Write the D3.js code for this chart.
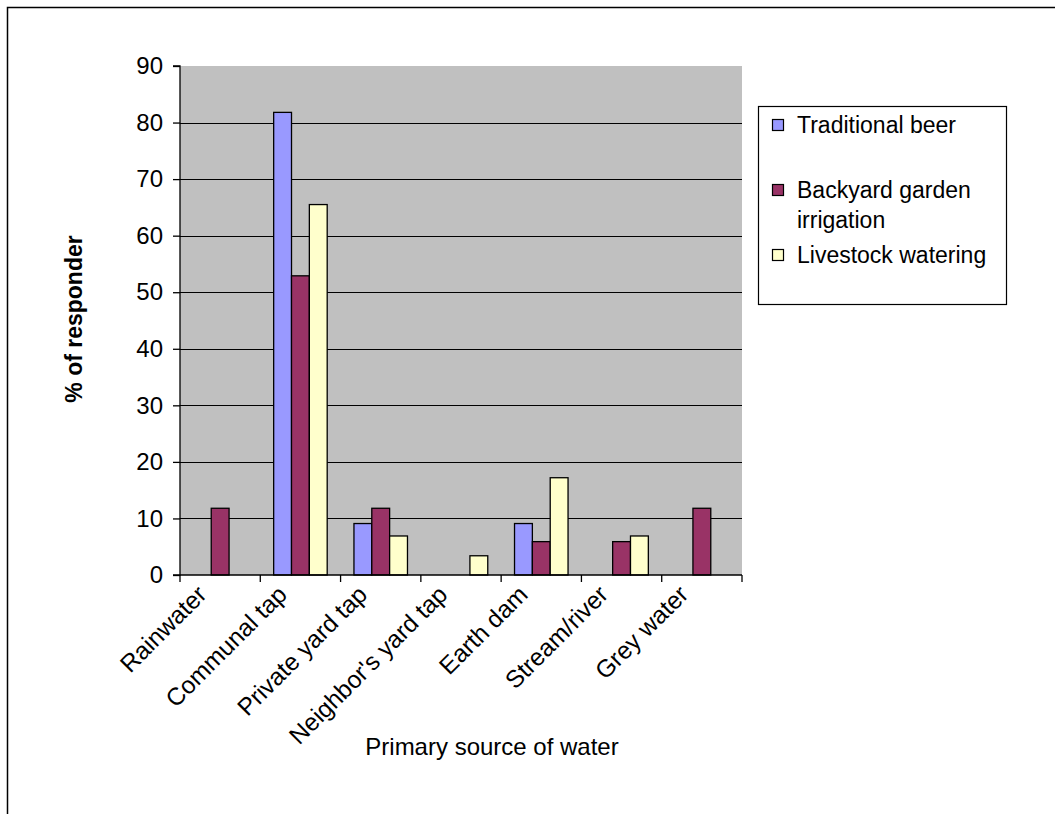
<!DOCTYPE html>
<html>
<head>
<meta charset="utf-8">
<script src="https://cdn.jsdelivr.net/npm/d3@7"></script>
<style>
  html, body { margin: 0; padding: 0; background: #fff; }
  svg { display: block; font-family: "Liberation Sans", Arial, sans-serif; }
</style>
</head>
<body>
<svg id="chart" width="1055" height="814"></svg>
<script>
// Primary source of water, by use (% of responders)
const categories = ["Rainwater", "Communal tap", "Private yard tap", "Neighbor's yard tap", "Earth dam", "Stream/river", "Grey water"];
const seriesNames = ["Traditional beer", "Backyard garden irrigation", "Livestock watering"];
const traditionalBeer = [0, 81.8, 9.1, 0, 9.1, 0, 0];
const backyardGarden = [11.8, 52.9, 11.8, 0, 5.9, 5.9, 11.8];
const livestockWatering = [0, 65.5, 6.9, 3.4, 17.2, 6.9, 0];
const seriesColors = ["#9999FF", "#993366", "#FFFFCC"];
const yTicks = [0, 10, 20, 30, 40, 50, 60, 70, 80, 90];

const seriesValues = [traditionalBeer, backyardGarden, livestockWatering];

const svg = d3.select("#chart");
const plot = { left: 180, right: 742, top: 66, bottom: 575 };

// Outer frame (continues past the right and bottom edges)
svg.append("path")
  .attr("d", "M7.5,814 V7.5 H1055")
  .attr("fill", "none").attr("stroke", "#000").attr("stroke-width", 1.5);

const x0 = d3.scaleBand().domain(categories).range([plot.left, plot.right]).paddingInner(0).paddingOuter(0);
const x1 = d3.scaleBand().domain(seriesNames).range([0, x0.bandwidth()]).paddingInner(0).paddingOuter(0.75);
const y = d3.scaleLinear().domain([0, 90]).range([plot.bottom, plot.top]);

// Plot background
svg.append("rect")
  .attr("x", plot.left).attr("y", plot.top)
  .attr("width", plot.right - plot.left).attr("height", plot.bottom - plot.top)
  .attr("fill", "#C0C0C0");

// Horizontal gridlines
svg.append("g").selectAll("line")
  .data(yTicks.filter(t => t > 0 && t < 90))
  .join("line")
  .attr("x1", plot.left).attr("x2", plot.right)
  .attr("y1", d => Math.round(y(d)) + 0.5).attr("y2", d => Math.round(y(d)) + 0.5)
  .attr("stroke", "#000").attr("stroke-width", 1);

// Bars
const groups = svg.append("g").selectAll("g")
  .data(categories)
  .join("g")
  .attr("transform", d => `translate(${x0(d)},0)`);

groups.selectAll("rect")
  .data((c, i) => seriesNames.map((s, k) => ({ s, k, v: seriesValues[k][i] })).filter(d => d.v > 0))
  .join("rect")
  .attr("x", d => x1(d.s))
  .attr("y", d => y(d.v))
  .attr("width", x1.bandwidth())
  .attr("height", d => y(0) - y(d.v))
  .attr("fill", d => seriesColors[d.k])
  .attr("stroke", "#000").attr("stroke-width", 1.3);

// Y axis
const yAxis = d3.axisLeft(y).tickValues(yTicks).tickSize(7).tickPadding(10).tickFormat(d3.format("d"));
const gy = svg.append("g").attr("transform", `translate(${plot.left},0)`).call(yAxis);
gy.select(".domain").attr("d", `M-7,${plot.top}H0V${plot.bottom}H-7`).attr("stroke-width", 1.3);
gy.selectAll(".tick line").attr("stroke-width", 1.3);
gy.selectAll(".tick text")
  .attr("font-size", 24).attr("font-family", "Liberation Sans, Arial, sans-serif").attr("fill", "#000");

// X axis line and category boundary ticks
svg.append("line")
  .attr("x1", plot.left).attr("x2", plot.right)
  .attr("y1", plot.bottom).attr("y2", plot.bottom)
  .attr("stroke", "#000").attr("stroke-width", 1.3);
const boundaries = categories.map(c => x0(c)).concat([plot.right]);
svg.append("g").selectAll("line")
  .data(boundaries)
  .join("line")
  .attr("x1", d => d).attr("x2", d => d)
  .attr("y1", plot.bottom).attr("y2", plot.bottom + 7)
  .attr("stroke", "#000").attr("stroke-width", 1.3);

// Rotated category labels
svg.append("g").selectAll("text")
  .data(categories)
  .join("text")
  .attr("transform", d => `translate(${x0(d) + x0.bandwidth() / 2 - 12},596) rotate(-45)`)
  .attr("text-anchor", "end")
  .attr("font-size", 24.5)
  .attr("fill", "#000")
  .text(d => d);

// Axis titles
svg.append("text")
  .attr("x", 492).attr("y", 755)
  .attr("text-anchor", "middle").attr("font-size", 24).attr("fill", "#000")
  .text("Primary source of water");

svg.append("text")
  .attr("transform", "translate(82,319) rotate(-90)")
  .attr("text-anchor", "middle").attr("font-size", 23).attr("font-weight", "bold").attr("fill", "#000")
  .text("% of responder");

// Legend
const legend = svg.append("g");
legend.append("rect")
  .attr("x", 758.5).attr("y", 106.5).attr("width", 248).attr("height", 198)
  .attr("fill", "#fff").attr("stroke", "#000").attr("stroke-width", 1.2);

const legendItems = [
  { k: 0, lines: ["Traditional beer"], y: 133 },
  { k: 1, lines: ["Backyard garden", "irrigation"], y: 198 },
  { k: 2, lines: ["Livestock watering"], y: 263 }
];
legendItems.forEach(item => {
  legend.append("rect")
    .attr("x", 772.5).attr("y", item.y - 13.5).attr("width", 11).attr("height", 11)
    .attr("fill", seriesColors[item.k]).attr("stroke", "#000").attr("stroke-width", 1.2);
  const t = legend.append("text").attr("x", 797).attr("y", item.y).attr("font-size", 23).attr("fill", "#000");
  item.lines.forEach((ln, j) => {
    t.append("tspan").attr("x", 797).attr("y", item.y + j * 30).text(ln);
  });
});
</script>
</body>
</html>
